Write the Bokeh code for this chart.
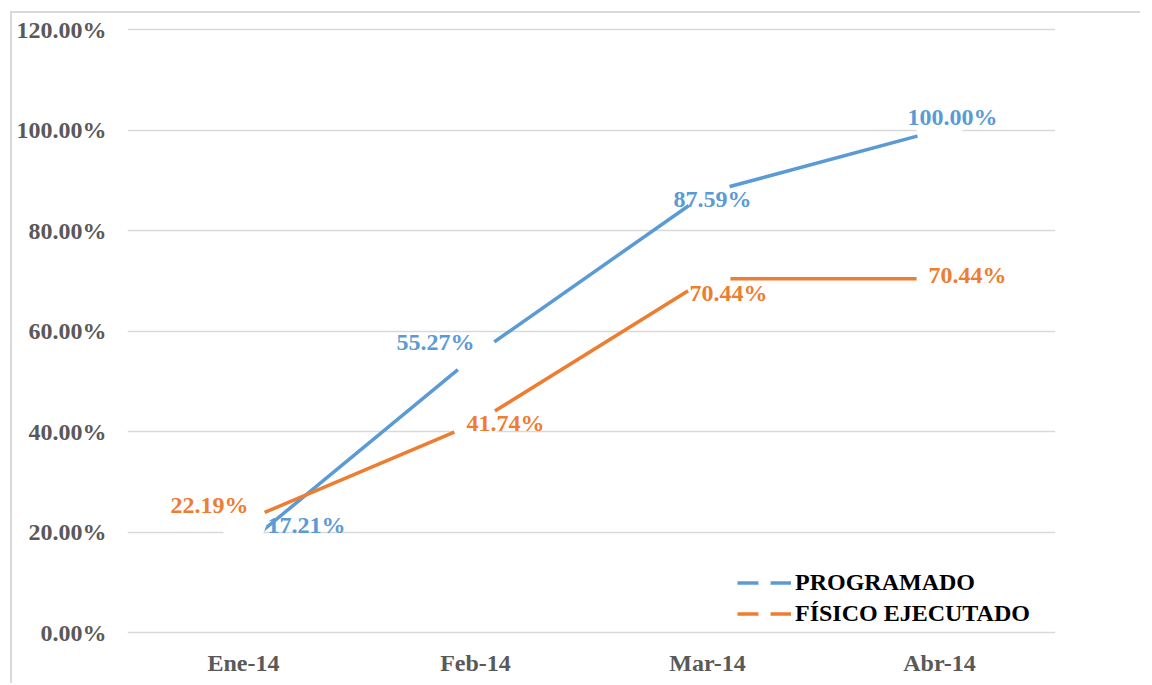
from bokeh.plotting import figure
from bokeh.models import (FactorRange, Range1d, FixedTicker, PrintfTickFormatter,
                          Legend, LegendItem, ColumnDataSource)
from bokeh.embed import file_html
from bokeh.resources import INLINE
from bokeh.core.properties import value

# ---- data ----
months = ["Ene-14", "Feb-14", "Mar-14", "Abr-14"]
programado = [17.21, 55.27, 87.59, 100.00]
fisico = [22.19, 41.74, 70.44, 70.44]
y_ticks = [0, 20, 40, 60, 80, 100, 120]
series_names = ["PROGRAMADO", "FÍSICO EJECUTADO"]

# ---- data-label offsets in pixels (style) ----
prog_dx = [63, -40, 5, 13]
prog_dy = [-21, -13, 6, -13]
fis_dx = [-34, 30, 21, 28]
fis_dy = [-16, 0, 14, -4]

FONT = "Liberation Serif"
BLUE = "#5b9bd5"
ORANGE = "#ed7d31"
GRAY = "#595959"
GRID = "#d9d9d9"
FS = "24px"

src = ColumnDataSource(dict(
    m=months, prog=programado, fis=fisico,
    prog_lbl=[f"{v:.2f}%" for v in programado],
    fis_lbl=[f"{v:.2f}%" for v in fisico],
    pdx=prog_dx, pdy=prog_dy, fdx=fis_dx, fdy=fis_dy,
))

p = figure(width=1130, height=672,
           x_range=FactorRange(*months, range_padding=0),
           y_range=Range1d(-0.5, 121),
           output_backend="svg", toolbar_location=None,
           min_border_left=115, min_border_right=87,
           min_border_top=11, min_border_bottom=50)
p.styles = {"box-shadow": f"-2px -2px 0px 0px {GRID}",
            "margin-left": "12px", "margin-top": "13px"}
p.outline_line_color = None
p.background_fill_color = "white"
p.border_fill_color = "white"

# axes
for ax in (p.xaxis[0], p.yaxis[0]):
    ax.axis_line_color = None
    ax.major_tick_line_color = None
    ax.minor_tick_line_color = None
    ax.major_label_text_font = FONT
    ax.major_label_text_font_style = "bold"
    ax.major_label_text_font_size = FS
    ax.major_label_text_color = GRAY
p.yaxis[0].ticker = FixedTicker(ticks=y_ticks)
p.yaxis[0].formatter = PrintfTickFormatter(format="%.2f%%")
p.yaxis[0].major_label_standoff = 15
p.xaxis[0].major_label_standoff = 8

p.xgrid.grid_line_color = None
p.ygrid.ticker = FixedTicker(ticks=y_ticks)
p.ygrid.grid_line_color = GRID
p.ygrid.grid_line_width = 1.5

lp = p.line("m", "prog", source=src, line_color=BLUE, line_width=3.5)
lf = p.line("m", "fis", source=src, line_color=ORANGE, line_width=3.5)
mp = p.scatter("m", "prog", source=src, marker="circle", size=46,
               fill_color="white", line_color=None)
mf = p.scatter("m", "fis", source=src, marker="circle", size=46,
               fill_color="white", line_color=None)

common = dict(text_align="center", text_baseline="middle",
              text_font=value(FONT), text_font_style="bold",
              text_font_size=FS)
p.text(x="m", y="prog", text="prog_lbl", x_offset="pdx", y_offset="pdy",
       text_color=BLUE, source=src, **common)
p.text(x="m", y="fis", text="fis_lbl", x_offset="fdx", y_offset="fdy",
       text_color=ORANGE, source=src, **common)

legend = Legend(items=[LegendItem(label=series_names[0], renderers=[lp, mp]),
                       LegendItem(label=series_names[1], renderers=[lf, mf])],
                location=(610, 6.5), glyph_width=54, glyph_height=31,
                label_height=31, spacing=0, padding=0, margin=0,
                label_standoff=4, border_line_color=None,
                background_fill_alpha=0,
                label_text_font=FONT, label_text_font_style="bold",
                label_text_font_size=FS, label_text_color="black")
p.add_layout(legend)

open("out.html", "w").write(file_html(p, INLINE))
